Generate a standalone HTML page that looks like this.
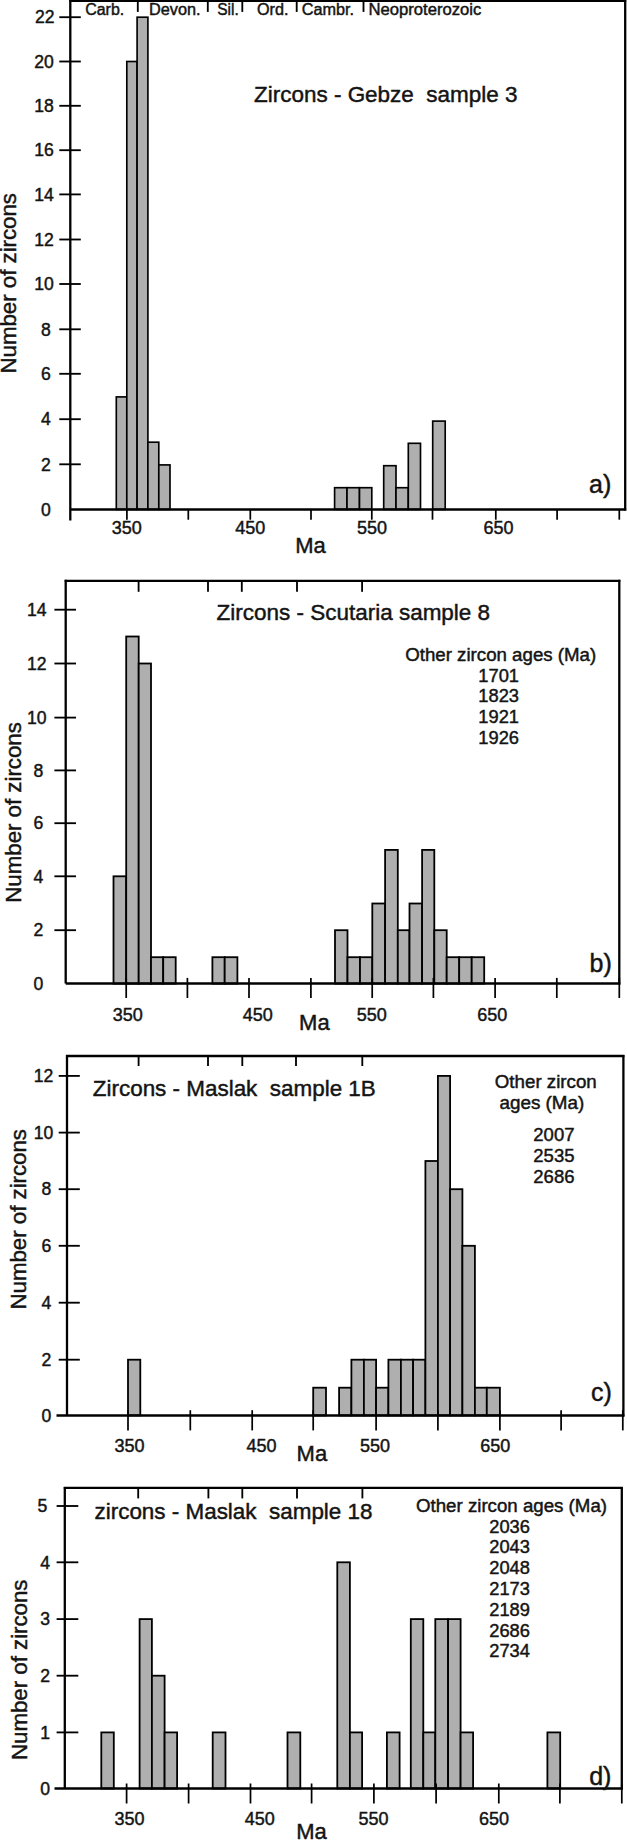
<!DOCTYPE html>
<html><head><meta charset="utf-8"><title>Zircon age histograms</title>
<style>
html,body{margin:0;padding:0;background:#fff;}
svg{display:block;}
text{font-family:"Liberation Sans",Arial,Helvetica,sans-serif;fill:#141414;stroke:#141414;stroke-width:0.45px;}
</style></head><body>
<svg width="627" height="1840" viewBox="0 0 627 1840">
<rect x="0" y="0" width="627" height="1840" fill="#ffffff"/>
<rect x="116.3" y="396.9" width="10.5" height="112.5" fill="#afafaf" stroke="#000" stroke-width="1.65"/>
<rect x="126.8" y="61.5" width="10.3" height="447.9" fill="#afafaf" stroke="#000" stroke-width="1.65"/>
<rect x="137.1" y="17.2" width="10.8" height="492.2" fill="#afafaf" stroke="#000" stroke-width="1.65"/>
<rect x="147.9" y="442.2" width="10.9" height="67.2" fill="#afafaf" stroke="#000" stroke-width="1.65"/>
<rect x="158.8" y="464.9" width="11.2" height="44.5" fill="#afafaf" stroke="#000" stroke-width="1.65"/>
<rect x="334.6" y="487.7" width="12.4" height="21.7" fill="#afafaf" stroke="#000" stroke-width="1.65"/>
<rect x="347.0" y="487.7" width="12.5" height="21.7" fill="#afafaf" stroke="#000" stroke-width="1.65"/>
<rect x="359.5" y="487.7" width="12.3" height="21.7" fill="#afafaf" stroke="#000" stroke-width="1.65"/>
<rect x="383.7" y="465.7" width="12.3" height="43.7" fill="#afafaf" stroke="#000" stroke-width="1.65"/>
<rect x="396.0" y="487.7" width="12.3" height="21.7" fill="#afafaf" stroke="#000" stroke-width="1.65"/>
<rect x="408.3" y="443.3" width="12.2" height="66.1" fill="#afafaf" stroke="#000" stroke-width="1.65"/>
<rect x="432.7" y="421.1" width="12.5" height="88.3" fill="#afafaf" stroke="#000" stroke-width="1.65"/>
<line x1="70.3" y1="-0.1" x2="70.3" y2="520.4" stroke="#000" stroke-width="2.3"/>
<line x1="625.2" y1="-0.1" x2="625.2" y2="510.4" stroke="#000" stroke-width="2.3"/>
<line x1="69.3" y1="0.9" x2="626.2" y2="0.9" stroke="#000" stroke-width="2.3"/>
<line x1="70.3" y1="509.4" x2="626.2" y2="509.4" stroke="#000" stroke-width="2.53"/>
<line x1="137.8" y1="0.9" x2="137.8" y2="11.9" stroke="#000" stroke-width="1.8399999999999999"/>
<line x1="207.8" y1="0.9" x2="207.8" y2="11.9" stroke="#000" stroke-width="1.8399999999999999"/>
<line x1="242.3" y1="0.9" x2="242.3" y2="11.9" stroke="#000" stroke-width="1.8399999999999999"/>
<line x1="296.7" y1="0.9" x2="296.7" y2="11.9" stroke="#000" stroke-width="1.8399999999999999"/>
<line x1="363.5" y1="0.9" x2="363.5" y2="11.9" stroke="#000" stroke-width="1.8399999999999999"/>
<line x1="126.9" y1="509.4" x2="126.9" y2="519.7" stroke="#000" stroke-width="1.7249999999999999"/>
<line x1="188.3" y1="509.4" x2="188.3" y2="519.7" stroke="#000" stroke-width="1.7249999999999999"/>
<line x1="250.3" y1="509.4" x2="250.3" y2="519.7" stroke="#000" stroke-width="1.7249999999999999"/>
<line x1="311.0" y1="509.4" x2="311.0" y2="519.7" stroke="#000" stroke-width="1.7249999999999999"/>
<line x1="371.8" y1="509.4" x2="371.8" y2="519.7" stroke="#000" stroke-width="1.7249999999999999"/>
<line x1="432.5" y1="509.4" x2="432.5" y2="519.7" stroke="#000" stroke-width="1.7249999999999999"/>
<line x1="495.8" y1="509.4" x2="495.8" y2="519.7" stroke="#000" stroke-width="1.7249999999999999"/>
<line x1="557.1" y1="509.4" x2="557.1" y2="519.7" stroke="#000" stroke-width="1.7249999999999999"/>
<line x1="619.3" y1="509.4" x2="619.3" y2="519.7" stroke="#000" stroke-width="1.7249999999999999"/>
<line x1="59.3" y1="17.2" x2="80.8" y2="17.2" stroke="#000" stroke-width="1.8399999999999999"/>
<line x1="59.3" y1="61.5" x2="80.8" y2="61.5" stroke="#000" stroke-width="1.8399999999999999"/>
<line x1="59.3" y1="105.8" x2="80.8" y2="105.8" stroke="#000" stroke-width="1.8399999999999999"/>
<line x1="59.3" y1="150.2" x2="80.8" y2="150.2" stroke="#000" stroke-width="1.8399999999999999"/>
<line x1="59.3" y1="194.4" x2="80.8" y2="194.4" stroke="#000" stroke-width="1.8399999999999999"/>
<line x1="59.3" y1="239.5" x2="80.8" y2="239.5" stroke="#000" stroke-width="1.8399999999999999"/>
<line x1="59.3" y1="284.0" x2="80.8" y2="284.0" stroke="#000" stroke-width="1.8399999999999999"/>
<line x1="59.3" y1="329.3" x2="80.8" y2="329.3" stroke="#000" stroke-width="1.8399999999999999"/>
<line x1="59.3" y1="373.8" x2="80.8" y2="373.8" stroke="#000" stroke-width="1.8399999999999999"/>
<line x1="59.3" y1="419.2" x2="80.8" y2="419.2" stroke="#000" stroke-width="1.8399999999999999"/>
<line x1="59.3" y1="464.3" x2="80.8" y2="464.3" stroke="#000" stroke-width="1.8399999999999999"/>
<text x="44.7" y="23.4" font-size="17.6" text-anchor="middle">22</text>
<text x="44.0" y="67.7" font-size="17.6" text-anchor="middle">20</text>
<text x="44.0" y="112.0" font-size="17.6" text-anchor="middle">18</text>
<text x="44.0" y="156.4" font-size="17.6" text-anchor="middle">16</text>
<text x="44.0" y="200.6" font-size="17.6" text-anchor="middle">14</text>
<text x="44.0" y="245.7" font-size="17.6" text-anchor="middle">12</text>
<text x="44.0" y="290.2" font-size="17.6" text-anchor="middle">10</text>
<text x="45.9" y="335.5" font-size="17.6" text-anchor="middle">8</text>
<text x="45.9" y="380.0" font-size="17.6" text-anchor="middle">6</text>
<text x="45.9" y="425.4" font-size="17.6" text-anchor="middle">4</text>
<text x="45.9" y="470.5" font-size="17.6" text-anchor="middle">2</text>
<text x="45.9" y="515.6" font-size="17.6" text-anchor="middle">0</text>
<text x="126.8" y="533.8" font-size="18" text-anchor="middle">350</text>
<text x="250.2" y="534.2" font-size="18" text-anchor="middle">450</text>
<text x="372.0" y="534.2" font-size="18" text-anchor="middle">550</text>
<text x="498.6" y="534.2" font-size="18" text-anchor="middle">650</text>
<text x="85.2" y="14.5" font-size="16" textLength="39.0" lengthAdjust="spacingAndGlyphs">Carb.</text>
<text x="149.0" y="14.5" font-size="16" textLength="51.5" lengthAdjust="spacingAndGlyphs">Devon.</text>
<text x="217.2" y="14.5" font-size="16" textLength="21.5" lengthAdjust="spacingAndGlyphs">Sil.</text>
<text x="257.0" y="14.5" font-size="16" textLength="31.5" lengthAdjust="spacingAndGlyphs">Ord.</text>
<text x="301.8" y="14.5" font-size="16" textLength="52.3" lengthAdjust="spacingAndGlyphs">Cambr.</text>
<text x="368.5" y="14.5" font-size="16" textLength="112.8" lengthAdjust="spacingAndGlyphs">Neoproterozoic</text>
<text x="254.0" y="101.6" font-size="22.3" textLength="263.5" lengthAdjust="spacingAndGlyphs">Zircons - Gebze&#160; sample 3</text>
<text x="589.0" y="492.8" font-size="25">a)</text>
<text x="295.2" y="552.5" font-size="22">Ma</text>
<text transform="translate(16.4,373.5) rotate(-90)" font-size="22" textLength="180.5" lengthAdjust="spacingAndGlyphs">Number of zircons</text>
<rect x="113.5" y="876.3" width="12.7" height="107.3" fill="#afafaf" stroke="#000" stroke-width="1.8"/>
<rect x="126.2" y="636.5" width="12.5" height="347.1" fill="#afafaf" stroke="#000" stroke-width="1.8"/>
<rect x="138.7" y="663.5" width="12.3" height="320.1" fill="#afafaf" stroke="#000" stroke-width="1.8"/>
<rect x="151.0" y="957.2" width="12.2" height="26.4" fill="#afafaf" stroke="#000" stroke-width="1.8"/>
<rect x="163.2" y="957.2" width="12.5" height="26.4" fill="#afafaf" stroke="#000" stroke-width="1.8"/>
<rect x="212.4" y="957.2" width="12.3" height="26.4" fill="#afafaf" stroke="#000" stroke-width="1.8"/>
<rect x="224.7" y="957.2" width="12.7" height="26.4" fill="#afafaf" stroke="#000" stroke-width="1.8"/>
<rect x="335.0" y="930.2" width="12.5" height="53.4" fill="#afafaf" stroke="#000" stroke-width="1.8"/>
<rect x="347.5" y="957.2" width="12.5" height="26.4" fill="#afafaf" stroke="#000" stroke-width="1.8"/>
<rect x="360.0" y="957.2" width="12.3" height="26.4" fill="#afafaf" stroke="#000" stroke-width="1.8"/>
<rect x="372.3" y="903.5" width="12.8" height="80.1" fill="#afafaf" stroke="#000" stroke-width="1.8"/>
<rect x="385.1" y="849.9" width="12.7" height="133.7" fill="#afafaf" stroke="#000" stroke-width="1.8"/>
<rect x="397.8" y="930.2" width="11.7" height="53.4" fill="#afafaf" stroke="#000" stroke-width="1.8"/>
<rect x="409.5" y="903.5" width="12.6" height="80.1" fill="#afafaf" stroke="#000" stroke-width="1.8"/>
<rect x="422.1" y="849.9" width="12.2" height="133.7" fill="#afafaf" stroke="#000" stroke-width="1.8"/>
<rect x="434.3" y="930.2" width="12.4" height="53.4" fill="#afafaf" stroke="#000" stroke-width="1.8"/>
<rect x="446.7" y="957.2" width="12.5" height="26.4" fill="#afafaf" stroke="#000" stroke-width="1.8"/>
<rect x="459.2" y="957.2" width="12.5" height="26.4" fill="#afafaf" stroke="#000" stroke-width="1.8"/>
<rect x="471.7" y="957.2" width="12.5" height="26.4" fill="#afafaf" stroke="#000" stroke-width="1.8"/>
<line x1="65.7" y1="579.8" x2="65.7" y2="983.6" stroke="#000" stroke-width="2.3"/>
<line x1="619.3" y1="579.8" x2="619.3" y2="984.6" stroke="#000" stroke-width="2.3"/>
<line x1="64.7" y1="580.8" x2="620.3" y2="580.8" stroke="#000" stroke-width="2.3"/>
<line x1="65.7" y1="983.6" x2="620.3" y2="983.6" stroke="#000" stroke-width="2.53"/>
<line x1="138.6" y1="580.8" x2="138.6" y2="591.8" stroke="#000" stroke-width="1.8399999999999999"/>
<line x1="208.0" y1="580.8" x2="208.0" y2="591.8" stroke="#000" stroke-width="1.8399999999999999"/>
<line x1="241.8" y1="580.8" x2="241.8" y2="591.8" stroke="#000" stroke-width="1.8399999999999999"/>
<line x1="297.0" y1="580.8" x2="297.0" y2="591.8" stroke="#000" stroke-width="1.8399999999999999"/>
<line x1="362.1" y1="580.8" x2="362.1" y2="591.8" stroke="#000" stroke-width="1.8399999999999999"/>
<line x1="126.2" y1="977.9" x2="126.2" y2="998.0" stroke="#000" stroke-width="1.7249999999999999"/>
<line x1="187.4" y1="977.9" x2="187.4" y2="998.0" stroke="#000" stroke-width="1.7249999999999999"/>
<line x1="249.0" y1="977.9" x2="249.0" y2="998.0" stroke="#000" stroke-width="1.7249999999999999"/>
<line x1="310.9" y1="977.9" x2="310.9" y2="998.0" stroke="#000" stroke-width="1.7249999999999999"/>
<line x1="372.2" y1="977.9" x2="372.2" y2="998.0" stroke="#000" stroke-width="1.7249999999999999"/>
<line x1="433.4" y1="977.9" x2="433.4" y2="998.0" stroke="#000" stroke-width="1.7249999999999999"/>
<line x1="495.1" y1="977.9" x2="495.1" y2="998.0" stroke="#000" stroke-width="1.7249999999999999"/>
<line x1="556.8" y1="977.9" x2="556.8" y2="998.0" stroke="#000" stroke-width="1.7249999999999999"/>
<line x1="619.3" y1="977.9" x2="619.3" y2="998.0" stroke="#000" stroke-width="1.7249999999999999"/>
<line x1="54.4" y1="609.7" x2="76.0" y2="609.7" stroke="#000" stroke-width="1.8399999999999999"/>
<line x1="54.4" y1="663.5" x2="76.0" y2="663.5" stroke="#000" stroke-width="1.8399999999999999"/>
<line x1="54.4" y1="717.6" x2="76.0" y2="717.6" stroke="#000" stroke-width="1.8399999999999999"/>
<line x1="54.4" y1="770.4" x2="76.0" y2="770.4" stroke="#000" stroke-width="1.8399999999999999"/>
<line x1="54.4" y1="823.2" x2="76.0" y2="823.2" stroke="#000" stroke-width="1.8399999999999999"/>
<line x1="54.4" y1="876.3" x2="76.0" y2="876.3" stroke="#000" stroke-width="1.8399999999999999"/>
<line x1="54.4" y1="930.2" x2="76.0" y2="930.2" stroke="#000" stroke-width="1.8399999999999999"/>
<text x="36.7" y="615.9" font-size="17.6" text-anchor="middle">14</text>
<text x="36.7" y="669.7" font-size="17.6" text-anchor="middle">12</text>
<text x="36.7" y="723.8" font-size="17.6" text-anchor="middle">10</text>
<text x="38.5" y="776.6" font-size="17.6" text-anchor="middle">8</text>
<text x="38.5" y="829.4" font-size="17.6" text-anchor="middle">6</text>
<text x="38.5" y="882.5" font-size="17.6" text-anchor="middle">4</text>
<text x="38.5" y="936.4" font-size="17.6" text-anchor="middle">2</text>
<text x="38.5" y="989.8" font-size="17.6" text-anchor="middle">0</text>
<text x="127.8" y="1021.0" font-size="18" text-anchor="middle">350</text>
<text x="257.8" y="1021.0" font-size="18" text-anchor="middle">450</text>
<text x="371.8" y="1021.0" font-size="18" text-anchor="middle">550</text>
<text x="492.2" y="1021.0" font-size="18" text-anchor="middle">650</text>
<text x="216.6" y="619.6" font-size="22.3" textLength="273.5" lengthAdjust="spacingAndGlyphs">Zircons - Scutaria sample 8</text>
<text x="405.2" y="661.0" font-size="18" textLength="191.0" lengthAdjust="spacingAndGlyphs">Other zircon ages (Ma)</text>
<text x="498.7" y="681.5" font-size="18.3" text-anchor="middle">1701</text>
<text x="498.7" y="702.4" font-size="18.3" text-anchor="middle">1823</text>
<text x="498.7" y="723.2" font-size="18.3" text-anchor="middle">1921</text>
<text x="498.7" y="744.0" font-size="18.3" text-anchor="middle">1926</text>
<text x="589.5" y="972.3" font-size="25">b)</text>
<text x="299.1" y="1029.8" font-size="22">Ma</text>
<text transform="translate(21.1,902.7) rotate(-90)" font-size="22" textLength="180.5" lengthAdjust="spacingAndGlyphs">Number of zircons</text>
<rect x="128.0" y="1359.7" width="12.3" height="55.7" fill="#afafaf" stroke="#000" stroke-width="1.8"/>
<rect x="313.2" y="1387.7" width="12.8" height="27.7" fill="#afafaf" stroke="#000" stroke-width="1.8"/>
<rect x="339.1" y="1387.7" width="12.3" height="27.7" fill="#afafaf" stroke="#000" stroke-width="1.8"/>
<rect x="351.4" y="1359.7" width="12.5" height="55.7" fill="#afafaf" stroke="#000" stroke-width="1.8"/>
<rect x="363.9" y="1359.7" width="12.2" height="55.7" fill="#afafaf" stroke="#000" stroke-width="1.8"/>
<rect x="376.1" y="1387.7" width="12.3" height="27.7" fill="#afafaf" stroke="#000" stroke-width="1.8"/>
<rect x="388.4" y="1359.7" width="12.5" height="55.7" fill="#afafaf" stroke="#000" stroke-width="1.8"/>
<rect x="400.9" y="1359.7" width="12.2" height="55.7" fill="#afafaf" stroke="#000" stroke-width="1.8"/>
<rect x="413.1" y="1359.7" width="12.3" height="55.7" fill="#afafaf" stroke="#000" stroke-width="1.8"/>
<rect x="425.4" y="1161.0" width="12.5" height="254.4" fill="#afafaf" stroke="#000" stroke-width="1.8"/>
<rect x="437.9" y="1075.9" width="12.2" height="339.5" fill="#afafaf" stroke="#000" stroke-width="1.8"/>
<rect x="450.1" y="1189.2" width="12.3" height="226.2" fill="#afafaf" stroke="#000" stroke-width="1.8"/>
<rect x="462.4" y="1245.8" width="12.5" height="169.6" fill="#afafaf" stroke="#000" stroke-width="1.8"/>
<rect x="474.9" y="1387.7" width="11.9" height="27.7" fill="#afafaf" stroke="#000" stroke-width="1.8"/>
<rect x="486.8" y="1387.7" width="13.1" height="27.7" fill="#afafaf" stroke="#000" stroke-width="1.8"/>
<line x1="67.0" y1="1055.0" x2="67.0" y2="1415.4" stroke="#000" stroke-width="2.3"/>
<line x1="623.4" y1="1055.0" x2="623.4" y2="1416.4" stroke="#000" stroke-width="2.3"/>
<line x1="66.0" y1="1056.0" x2="624.4" y2="1056.0" stroke="#000" stroke-width="2.3"/>
<line x1="56.5" y1="1415.4" x2="624.4" y2="1415.4" stroke="#000" stroke-width="2.53"/>
<line x1="138.6" y1="1056.0" x2="138.6" y2="1066.0" stroke="#000" stroke-width="1.8399999999999999"/>
<line x1="208.0" y1="1056.0" x2="208.0" y2="1066.0" stroke="#000" stroke-width="1.8399999999999999"/>
<line x1="242.3" y1="1056.0" x2="242.3" y2="1066.0" stroke="#000" stroke-width="1.8399999999999999"/>
<line x1="296.0" y1="1056.0" x2="296.0" y2="1066.0" stroke="#000" stroke-width="1.8399999999999999"/>
<line x1="362.3" y1="1056.0" x2="362.3" y2="1066.0" stroke="#000" stroke-width="1.8399999999999999"/>
<line x1="128.0" y1="1410.2" x2="128.0" y2="1430.4" stroke="#000" stroke-width="1.7249999999999999"/>
<line x1="190.3" y1="1410.2" x2="190.3" y2="1430.4" stroke="#000" stroke-width="1.7249999999999999"/>
<line x1="252.2" y1="1410.2" x2="252.2" y2="1430.4" stroke="#000" stroke-width="1.7249999999999999"/>
<line x1="313.2" y1="1410.2" x2="313.2" y2="1430.4" stroke="#000" stroke-width="1.7249999999999999"/>
<line x1="376.1" y1="1410.2" x2="376.1" y2="1430.4" stroke="#000" stroke-width="1.7249999999999999"/>
<line x1="437.9" y1="1410.2" x2="437.9" y2="1430.4" stroke="#000" stroke-width="1.7249999999999999"/>
<line x1="499.9" y1="1410.2" x2="499.9" y2="1430.4" stroke="#000" stroke-width="1.7249999999999999"/>
<line x1="561.1" y1="1410.2" x2="561.1" y2="1430.4" stroke="#000" stroke-width="1.7249999999999999"/>
<line x1="622.8" y1="1410.2" x2="622.8" y2="1430.4" stroke="#000" stroke-width="1.7249999999999999"/>
<line x1="58.7" y1="1075.9" x2="79.8" y2="1075.9" stroke="#000" stroke-width="1.8399999999999999"/>
<line x1="58.7" y1="1132.6" x2="79.8" y2="1132.6" stroke="#000" stroke-width="1.8399999999999999"/>
<line x1="58.7" y1="1189.2" x2="79.8" y2="1189.2" stroke="#000" stroke-width="1.8399999999999999"/>
<line x1="58.7" y1="1245.8" x2="79.8" y2="1245.8" stroke="#000" stroke-width="1.8399999999999999"/>
<line x1="58.7" y1="1302.7" x2="79.8" y2="1302.7" stroke="#000" stroke-width="1.8399999999999999"/>
<line x1="58.7" y1="1359.7" x2="79.8" y2="1359.7" stroke="#000" stroke-width="1.8399999999999999"/>
<text x="43.5" y="1082.1" font-size="17.6" text-anchor="middle">12</text>
<text x="43.5" y="1138.8" font-size="17.6" text-anchor="middle">10</text>
<text x="46.5" y="1195.4" font-size="17.6" text-anchor="middle">8</text>
<text x="46.5" y="1252.0" font-size="17.6" text-anchor="middle">6</text>
<text x="46.5" y="1308.9" font-size="17.6" text-anchor="middle">4</text>
<text x="46.5" y="1365.9" font-size="17.6" text-anchor="middle">2</text>
<text x="46.5" y="1421.6" font-size="17.6" text-anchor="middle">0</text>
<text x="129.5" y="1451.8" font-size="18" text-anchor="middle">350</text>
<text x="261.4" y="1451.8" font-size="18" text-anchor="middle">450</text>
<text x="374.9" y="1451.8" font-size="18" text-anchor="middle">550</text>
<text x="495.2" y="1451.8" font-size="18" text-anchor="middle">650</text>
<text x="92.8" y="1095.6" font-size="22.3" textLength="283.0" lengthAdjust="spacingAndGlyphs">Zircons - Maslak&#160; sample 1B</text>
<text x="494.8" y="1088.0" font-size="18" textLength="102.0" lengthAdjust="spacingAndGlyphs">Other zircon</text>
<text x="499.5" y="1108.9" font-size="18" textLength="84.8" lengthAdjust="spacingAndGlyphs">ages (Ma)</text>
<text x="553.9" y="1141.3" font-size="18.5" text-anchor="middle">2007</text>
<text x="553.9" y="1162.1" font-size="18.5" text-anchor="middle">2535</text>
<text x="553.9" y="1182.9" font-size="18.5" text-anchor="middle">2686</text>
<text x="591.0" y="1400.7" font-size="25">c)</text>
<text x="296.6" y="1460.6" font-size="22">Ma</text>
<text transform="translate(26.0,1309.5) rotate(-90)" font-size="22" textLength="180.5" lengthAdjust="spacingAndGlyphs">Number of zircons</text>
<rect x="101.3" y="1732.4" width="12.5" height="56.1" fill="#afafaf" stroke="#000" stroke-width="1.8"/>
<rect x="139.6" y="1619.1" width="12.3" height="169.4" fill="#afafaf" stroke="#000" stroke-width="1.8"/>
<rect x="151.9" y="1675.7" width="12.7" height="112.8" fill="#afafaf" stroke="#000" stroke-width="1.8"/>
<rect x="164.6" y="1732.4" width="12.5" height="56.1" fill="#afafaf" stroke="#000" stroke-width="1.8"/>
<rect x="212.7" y="1732.4" width="12.8" height="56.1" fill="#afafaf" stroke="#000" stroke-width="1.8"/>
<rect x="287.5" y="1732.4" width="12.8" height="56.1" fill="#afafaf" stroke="#000" stroke-width="1.8"/>
<rect x="337.3" y="1562.3" width="12.6" height="226.2" fill="#afafaf" stroke="#000" stroke-width="1.8"/>
<rect x="349.9" y="1732.4" width="12.2" height="56.1" fill="#afafaf" stroke="#000" stroke-width="1.8"/>
<rect x="386.9" y="1732.4" width="12.7" height="56.1" fill="#afafaf" stroke="#000" stroke-width="1.8"/>
<rect x="410.8" y="1619.1" width="12.5" height="169.4" fill="#afafaf" stroke="#000" stroke-width="1.8"/>
<rect x="423.3" y="1732.4" width="12.0" height="56.1" fill="#afafaf" stroke="#000" stroke-width="1.8"/>
<rect x="435.3" y="1619.1" width="12.8" height="169.4" fill="#afafaf" stroke="#000" stroke-width="1.8"/>
<rect x="448.1" y="1619.1" width="12.5" height="169.4" fill="#afafaf" stroke="#000" stroke-width="1.8"/>
<rect x="460.6" y="1732.4" width="12.5" height="56.1" fill="#afafaf" stroke="#000" stroke-width="1.8"/>
<rect x="547.4" y="1732.4" width="12.8" height="56.1" fill="#afafaf" stroke="#000" stroke-width="1.8"/>
<line x1="64.8" y1="1486.9" x2="64.8" y2="1788.5" stroke="#000" stroke-width="2.3"/>
<line x1="621.8" y1="1486.9" x2="621.8" y2="1789.5" stroke="#000" stroke-width="2.3"/>
<line x1="63.8" y1="1487.9" x2="622.8" y2="1487.9" stroke="#000" stroke-width="2.3"/>
<line x1="54.5" y1="1788.5" x2="622.8" y2="1788.5" stroke="#000" stroke-width="2.53"/>
<line x1="138.2" y1="1487.9" x2="138.2" y2="1498.4" stroke="#000" stroke-width="1.8399999999999999"/>
<line x1="208.4" y1="1487.9" x2="208.4" y2="1498.4" stroke="#000" stroke-width="1.8399999999999999"/>
<line x1="242.3" y1="1487.9" x2="242.3" y2="1498.4" stroke="#000" stroke-width="1.8399999999999999"/>
<line x1="297.0" y1="1487.9" x2="297.0" y2="1498.4" stroke="#000" stroke-width="1.8399999999999999"/>
<line x1="362.4" y1="1487.9" x2="362.4" y2="1498.4" stroke="#000" stroke-width="1.8399999999999999"/>
<line x1="126.6" y1="1783.5" x2="126.6" y2="1803.5" stroke="#000" stroke-width="1.7249999999999999"/>
<line x1="188.6" y1="1783.5" x2="188.6" y2="1803.5" stroke="#000" stroke-width="1.7249999999999999"/>
<line x1="250.5" y1="1783.5" x2="250.5" y2="1803.5" stroke="#000" stroke-width="1.7249999999999999"/>
<line x1="311.6" y1="1783.5" x2="311.6" y2="1803.5" stroke="#000" stroke-width="1.7249999999999999"/>
<line x1="373.9" y1="1783.5" x2="373.9" y2="1803.5" stroke="#000" stroke-width="1.7249999999999999"/>
<line x1="436.1" y1="1783.5" x2="436.1" y2="1803.5" stroke="#000" stroke-width="1.7249999999999999"/>
<line x1="498.8" y1="1783.5" x2="498.8" y2="1803.5" stroke="#000" stroke-width="1.7249999999999999"/>
<line x1="559.9" y1="1783.5" x2="559.9" y2="1803.5" stroke="#000" stroke-width="1.7249999999999999"/>
<line x1="621.8" y1="1783.5" x2="621.8" y2="1803.5" stroke="#000" stroke-width="1.7249999999999999"/>
<line x1="56.6" y1="1506.0" x2="78.3" y2="1506.0" stroke="#000" stroke-width="1.8399999999999999"/>
<line x1="56.6" y1="1562.3" x2="78.3" y2="1562.3" stroke="#000" stroke-width="1.8399999999999999"/>
<line x1="56.6" y1="1619.1" x2="78.3" y2="1619.1" stroke="#000" stroke-width="1.8399999999999999"/>
<line x1="56.6" y1="1675.7" x2="78.3" y2="1675.7" stroke="#000" stroke-width="1.8399999999999999"/>
<line x1="56.6" y1="1732.4" x2="78.3" y2="1732.4" stroke="#000" stroke-width="1.8399999999999999"/>
<text x="42.5" y="1512.2" font-size="17.6" text-anchor="middle">5</text>
<text x="45.2" y="1568.5" font-size="17.6" text-anchor="middle">4</text>
<text x="45.2" y="1625.3" font-size="17.6" text-anchor="middle">3</text>
<text x="45.2" y="1681.9" font-size="17.6" text-anchor="middle">2</text>
<text x="45.2" y="1738.6" font-size="17.6" text-anchor="middle">1</text>
<text x="45.2" y="1794.7" font-size="17.6" text-anchor="middle">0</text>
<text x="129.5" y="1824.5" font-size="18" text-anchor="middle">350</text>
<text x="259.7" y="1824.5" font-size="18" text-anchor="middle">450</text>
<text x="373.4" y="1824.5" font-size="18" text-anchor="middle">550</text>
<text x="494.0" y="1824.5" font-size="18" text-anchor="middle">650</text>
<text x="94.5" y="1519.0" font-size="22.3" textLength="278.0" lengthAdjust="spacingAndGlyphs">zircons - Maslak&#160; sample 18</text>
<text x="416.0" y="1511.7" font-size="18" textLength="191.0" lengthAdjust="spacingAndGlyphs">Other zircon ages (Ma)</text>
<text x="509.6" y="1532.5" font-size="18.3" text-anchor="middle">2036</text>
<text x="509.6" y="1553.3" font-size="18.3" text-anchor="middle">2043</text>
<text x="509.6" y="1574.1" font-size="18.3" text-anchor="middle">2048</text>
<text x="509.6" y="1594.9" font-size="18.3" text-anchor="middle">2173</text>
<text x="509.6" y="1615.7" font-size="18.3" text-anchor="middle">2189</text>
<text x="509.6" y="1636.5" font-size="18.3" text-anchor="middle">2686</text>
<text x="509.6" y="1657.3" font-size="18.3" text-anchor="middle">2734</text>
<text x="589.2" y="1784.9" font-size="25">d)</text>
<text x="296.2" y="1839.2" font-size="22">Ma</text>
<text transform="translate(27.0,1760.0) rotate(-90)" font-size="22" textLength="180.5" lengthAdjust="spacingAndGlyphs">Number of zircons</text>
</svg>
</body></html>
